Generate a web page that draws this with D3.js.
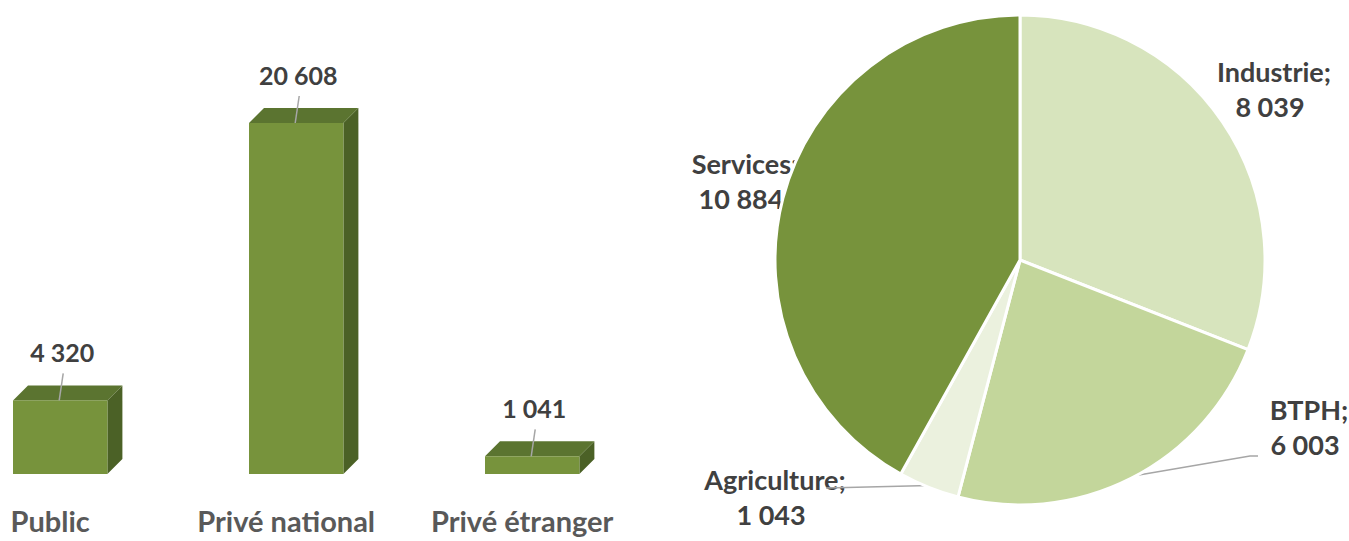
<!DOCTYPE html>
<html>
<head>
<meta charset="utf-8">
<script src="https://cdn.jsdelivr.net/npm/d3@7"></script>
<style>
  body { margin: 0; background: #fff; }
  svg { display: block; font-family: Lato, "Open Sans", sans-serif; font-weight: bold; }
</style>
</head>
<body>
<div class="chart-container"></div>
<script>
// Bar chart data
const barCategories = ["Public", "Privé national", "Privé étranger"];
const barValues = [4320, 20608, 1041];
const barLabels = ["4 320", "20 608", "1 041"];

// Pie chart data
const pieCategories = ["Industrie", "BTPH", "Agriculture", "Services"];
const pieValues = [8039, 6003, 1043, 10884];
const pieLabels = ["8 039", "6 003", "1 043", "10 884"];
const pieColors = ["#d7e4bd", "#c3d69b", "#ebf1de", "#77933c"];

function draw() {
    const width = 1349;
    const height = 541;
    const textColor = "#404040";

    const svg = d3.select('.chart-container').append("svg")
        .attr("width", width)
        .attr("height", height);

    // ---- 3D bars ----
    const baseY = 474;
    const depth = 15;

    const x = d3.scaleBand()
        .domain(barCategories)
        .range([13, 579.4])
        .paddingInner(0.6)
        .paddingOuter(0);

    const y = d3.scaleLinear()
        .domain([0, d3.max(barValues)])
        .range([baseY, 123]);

    const bars = svg.append("g").attr("id", "bars");

    const bar = bars.selectAll("g")
        .data(barCategories.map((c, i) => ({ cat: c, value: barValues[i], label: barLabels[i] })))
        .enter()
        .append("g");

    // side face
    bar.append("path")
        .attr("fill", "#4b6126")
        .attr("d", d => {
            const x1 = x(d.cat) + x.bandwidth(), t = y(d.value);
            return `M${x1},${t} L${x1 + depth},${t - depth} L${x1 + depth},${baseY - depth} L${x1},${baseY} Z`;
        });

    // top face
    bar.append("path")
        .attr("fill", "#5b7430")
        .attr("d", d => {
            const x0 = x(d.cat), x1 = x0 + x.bandwidth(), t = y(d.value);
            return `M${x0},${t} L${x0 + depth},${t - depth} L${x1 + depth},${t - depth} L${x1},${t} Z`;
        });

    // front face
    bar.append("rect")
        .attr("fill", "#77933c")
        .attr("x", d => x(d.cat))
        .attr("y", d => y(d.value))
        .attr("width", x.bandwidth())
        .attr("height", d => baseY - y(d.value));

    // leader lines
    bar.append("line")
        .attr("stroke", "#a6a6a6")
        .attr("stroke-width", 1.5)
        .attr("x1", d => x(d.cat) + x.bandwidth() / 2 + 3)
        .attr("y1", d => y(d.value) - 27)
        .attr("x2", d => x(d.cat) + x.bandwidth() / 2 - 1)
        .attr("y2", d => y(d.value));

    // value labels
    bar.append("text")
        .attr("x", d => x(d.cat) + x.bandwidth() / 2 + 2)
        .attr("y", d => y(d.value) - 38)
        .attr("text-anchor", "middle")
        .attr("fill", textColor)
        .style("font-size", "25px")
        .text(d => d.label);

    // category labels
    bars.selectAll("text.cat")
        .data(barCategories)
        .enter()
        .append("text")
        .attr("class", "cat")
        .attr("x", d => x(d) + x.bandwidth() / 2 - 10)
        .attr("y", 532)
        .attr("text-anchor", "middle")
        .attr("fill", "#595959")
        .style("font-size", "29px")
        .text(d => d);

    // ---- Pie ----
    const cx = 1020, cy = 260, r = 245;

    const pie = d3.pie().sort(null).value(d => d.value);
    const arcs = pie(pieCategories.map((c, i) => ({ cat: c, value: pieValues[i], label: pieLabels[i], color: pieColors[i] })));
    const arc = d3.arc().innerRadius(0).outerRadius(r);

    const g = svg.append("g").attr("transform", `translate(${cx},${cy})`);

    // label layout (relative to pie centre), drawn beneath the pie
    const labelPos = {
        "Industrie": [254, -178],
        "BTPH": [289, 160],
        "Agriculture": [-245, 230],
        "Services": [-275, -86]
    };
    const lineGap = 35;

    const labels = g.append("g");
    arcs.forEach(a => {
        const p = labelPos[a.data.cat];
        const t = labels.append("text")
            .attr("text-anchor", "middle")
            .attr("fill", textColor)
            .style("font-size", "27px");
        t.append("tspan").attr("x", p[0]).attr("y", p[1]).text(a.data.cat + ";");
        t.append("tspan").attr("x", p[0] - 4).attr("y", p[1] + lineGap).text(a.data.label);
    });

    // leader lines for the small bottom slices
    const leaders = {
        "BTPH": [[230, 196], [238, 196]],
        "Agriculture": [[-194, 228]]
    };
    arcs.forEach(a => {
        const pts = leaders[a.data.cat];
        if (!pts) return;
        const mid = (a.startAngle + a.endAngle) / 2;
        const start = [Math.sin(mid) * (r - 2), -Math.cos(mid) * (r - 2)];
        labels.append("path")
            .attr("fill", "none")
            .attr("stroke", "#a6a6a6")
            .attr("stroke-width", 1.5)
            .attr("d", d3.line()([start, ...pts]));
    });

    g.selectAll("path.slice")
        .data(arcs)
        .enter()
        .append("path")
        .attr("class", "slice")
        .attr("d", arc)
        .attr("fill", d => d.data.color)
        .attr("stroke", "#ffffff")
        .attr("stroke-width", 3);
}

draw();
</script>
</body>
</html>
